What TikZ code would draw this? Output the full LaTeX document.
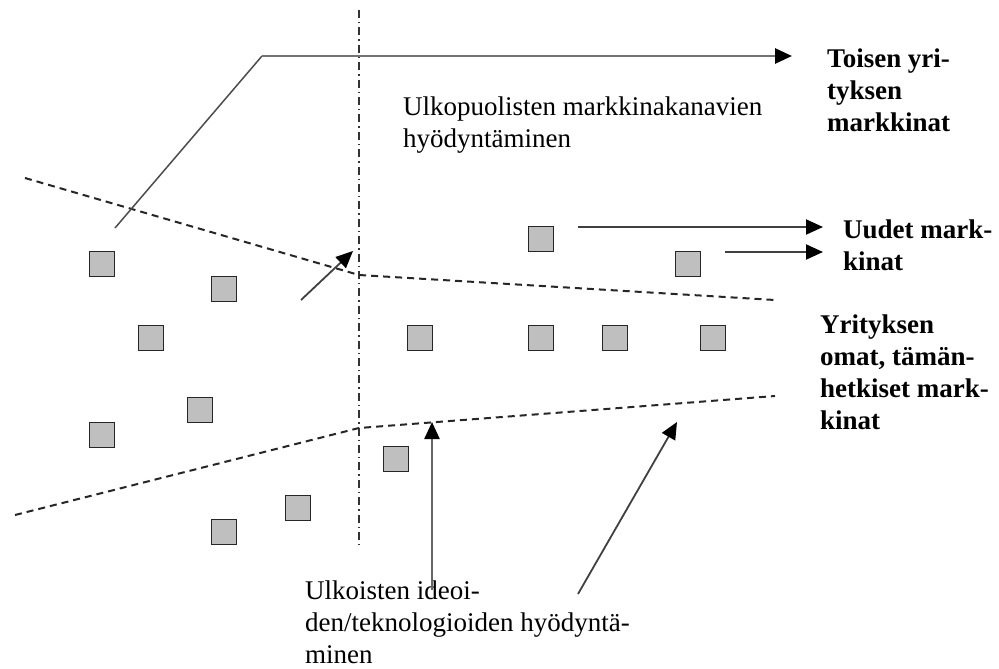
\documentclass[tikz,border=0pt]{standalone}
\usepackage{fontspec}
\setmainfont{Liberation Serif}
\usetikzlibrary{arrows.meta}
\begin{document}
\begin{tikzpicture}[x=1pt,y=-1pt,
  market/.style={draw=black!85,line width=1.8pt,fill=black!25,minimum size=25pt,inner sep=0pt},
  boundary/.style={draw=black!85,line width=2pt,dash pattern=on 7pt off 5pt},
  divider/.style={draw=black!80,line width=1.4pt,dash pattern=on 8pt off 4pt on 1.4pt off 4pt},
  flow/.style={draw=black!75,line width=2pt,-{Triangle[length=17pt,width=15pt,color=black]}},
  lbl/.style={font=\fontsize{27}{32}\selectfont,align=left,inner sep=0pt,anchor=base west},
  blbl/.style={font=\fontsize{27}{32}\selectfont\bfseries,align=left,inner sep=0pt,anchor=base west}]
\useasboundingbox (0,0) rectangle (999,669);

% vertical divider between inside and outside the firm
\coordinate (dtop) at (359,10);
\coordinate (dbot) at (359,546);
\draw[divider] (dtop) -- (dbot);

% boundaries of the firm's current markets
\coordinate (ua) at (25,178);
\coordinate (ub) at (359,275);
\coordinate (uc) at (775,300);
\draw[boundary] (ua) -- (ub) -- (uc);
\coordinate (la) at (15,515);
\coordinate (lb) at (359,428);
\coordinate (lc) at (775,396);
\draw[boundary] (la) -- (lb) -- (lc);

% projects
\node[market] (s1) at (102,264) {};
\node[market] (s2) at (224,289) {};
\node[market] (s3) at (151,338) {};
\node[market] (s4) at (200,410) {};
\node[market] (s5) at (102,435) {};
\node[market] (s6) at (298,508) {};
\node[market] (s7) at (224,532) {};
\node[market] (s8) at (396,459) {};
\node[market] (s9) at (420,338) {};
\node[market] (s10) at (541,239) {};
\node[market] (s11) at (688,264) {};
\node[market] (s12) at (541,338) {};
\node[market] (s13) at (615,338) {};
\node[market] (s14) at (713,338) {};

% labels (anchored at the baseline of their last line)
\node[lbl] (tout) at (403,147) {Ulkopuolisten markkinakanavien\\hyödyntäminen};
\node[blbl] (tother) at (827,131) {Toisen yri-\\tyksen\\markkinat};
\node[blbl] (tnew) at (843,270) {Uudet mark-\\kinat};
\node[blbl] (town) at (820,429) {Yrityksen\\omat, tämän-\\hetkiset mark-\\kinat};
\node[lbl] (tidea) at (305,663) {Ulkoisten ideoi-\\den/teknologioiden hyödyntä-\\minen};

% spin-off path to other firms' markets
\coordinate (sa) at (115,228);
\coordinate (sb) at (262,56);
\coordinate (se) at (792,56);
\draw[draw=black!70,line width=1.5pt] (sa) -- (sb);
\draw[flow,draw=black!55,line width=2.8pt] (sb) -- (se);

% flows to new markets
\coordinate (n1a) at (578,227);
\coordinate (n1b) at (823,227);
\coordinate (n2a) at (725,252);
\coordinate (n2b) at (823,252);
\draw[flow] (n1a) -- (n1b);
\draw[flow] (n2a) -- (n2b);

% small arrow crossing the boundary
\coordinate (xa) at (301,300);
\coordinate (xb) at (353,251);
\draw[flow,line width=1.8pt] (xa) -- (xb);

% inflows of external ideas
\coordinate (ia) at (432,590);
\coordinate (ib) at (432,422);
\coordinate (ja) at (578,594);
\coordinate (jb) at (677,422);
\draw[flow,draw=black!60,line width=2.4pt] (ia) -- (ib);
\draw[flow,line width=1.8pt] (ja) -- (jb);
\end{tikzpicture}
\end{document}
